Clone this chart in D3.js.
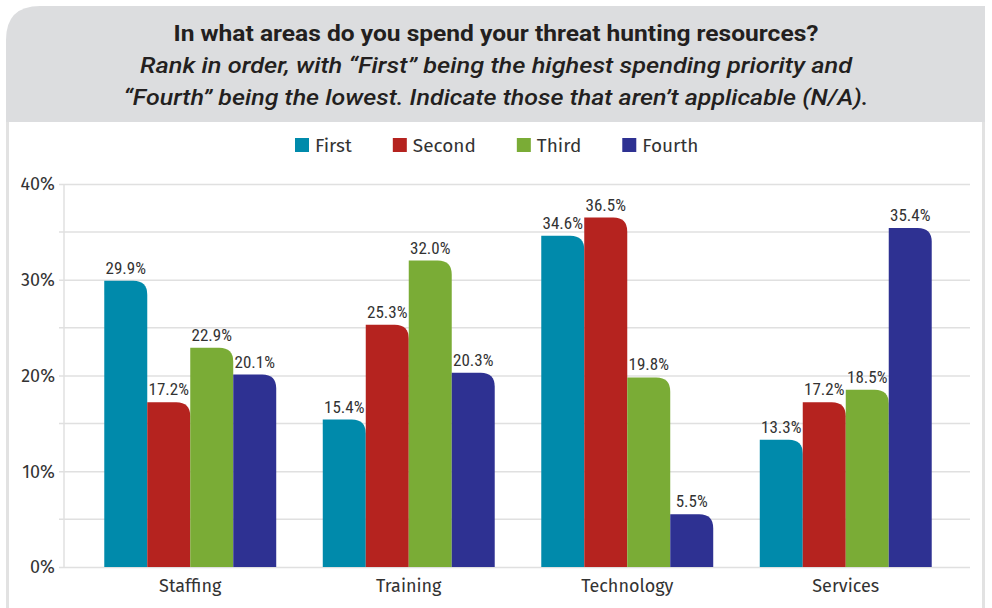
<!DOCTYPE html>
<html><head><meta charset="utf-8">
<script src="https://cdn.jsdelivr.net/npm/d3@7"></script>
<style>
html,body{margin:0;padding:0;background:#fff;}
svg{display:block;}
</style></head>
<body>
<svg id="c" width="992" height="608"></svg>
<script>
const categories = ["Staffing", "Training", "Technology", "Services"];
const seriesNames = ["First", "Second", "Third", "Fourth"];
const first  = [29.9, 15.4, 34.6, 13.3];
const second = [17.2, 25.3, 36.5, 17.2];
const third  = [22.9, 32.0, 19.8, 18.5];
const fourth = [20.1, 20.3, 5.5, 35.4];
const seriesColors = ["#008aab", "#b5231f", "#7aac36", "#2e3192"];
const yTicks = [0, 10, 20, 30, 40];
const yMinor = [5, 15, 25, 35];
const titleLines = [
  "In what areas do you spend your threat hunting resources?",
  "Rank in order, with \u201cFirst\u201d being the highest spending priority and",
  "\u201cFourth\u201d being the lowest. Indicate those that aren\u2019t applicable (N/A)."
];

const series = [first, second, third, fourth];
const svg = d3.select("#c");
const condensed = "'Roboto Condensed','Liberation Sans Narrow','DejaVu Sans Condensed','Open Sans',sans-serif";
const sans = "'Fira Sans','Noto Sans','Open Sans',sans-serif";
const titleFont = "Roboto,'Noto Sans',sans-serif";

// panel
const r = 34, L = 6, R = 985, T = 6, HB = 122;
svg.append("path")
  .attr("d", `M${L},${HB} L${L},${T + r} Q${L},${T} ${L + r},${T} L${R},${T} L${R},${HB} Z`)
  .attr("fill", "#dcdddf");
svg.append("line").attr("x1", L + 1.5).attr("x2", L + 1.5).attr("y1", HB).attr("y2", 608)
  .attr("stroke", "#e2e2e2").attr("stroke-width", 3);
svg.append("line").attr("x1", R - 1.5).attr("x2", R - 1.5).attr("y1", HB).attr("y2", 608)
  .attr("stroke", "#e2e2e2").attr("stroke-width", 3);

// title
const ty = [41, 73, 105];
const targetW = [645, 712, 745];
titleLines.forEach((t, i) => {
  const el = svg.append("text").attr("x", 496).attr("y", ty[i])
    .attr("text-anchor", "middle")
    .attr("font-family", titleFont)
    .attr("font-size", 22)
    .attr("font-weight", i === 0 ? "bold" : "500")
    .attr("font-style", i === 0 ? "normal" : "italic")
    .attr("fill", "#231f20")
    .text(t);
  const w = el.node().getComputedTextLength();
  if (Math.abs(w - targetW[i]) > 2) el.attr("textLength", targetW[i]).attr("lengthAdjust", "spacingAndGlyphs");
});

// scales
const x0 = d3.scaleBand().domain(categories).range([81, 955]).paddingInner(0.213).paddingOuter(0.1065);
const x1 = d3.scaleBand().domain(seriesNames).range([0, x0.bandwidth()]);
const y = d3.scaleLinear().domain([0, 40]).range([567, 184]);

const plotL = 64, plotR = 970;
// minor gridlines
svg.append("g").selectAll("line").data(yMinor).join("line")
  .attr("x1", plotL - 5).attr("x2", plotR)
  .attr("y1", d => y(d)).attr("y2", d => y(d))
  .attr("stroke", "#e0e0e0").attr("stroke-width", 1.5);

// y axis
const yAxis = d3.axisLeft(y).tickValues(yTicks).tickFormat(d => d + "%").tickSize(-(plotR - plotL)).tickPadding(10);
const ga = svg.append("g").attr("transform", `translate(${plotL},0)`).call(yAxis);
ga.select(".domain").remove();
ga.selectAll(".tick line").attr("stroke", "#e0e0e0").attr("stroke-width", 1.5).attr("x1", -5);
ga.selectAll(".tick text").attr("font-family", sans).attr("font-size", 18).attr("fill", "#333").attr("x", -9);
svg.append("line").attr("x1", plotL).attr("x2", plotL).attr("y1", y(40)).attr("y2", y(0))
  .attr("stroke", "#e0e0e0").attr("stroke-width", 1.5);

// bars
const rad = 14;
function barPath(xl, w, yt, yb) {
  const rr = Math.min(rad, w, yb - yt);
  return `M${xl},${yb} L${xl},${yt} L${xl + w - rr},${yt} Q${xl + w},${yt} ${xl + w},${yt + rr} L${xl + w},${yb} Z`;
}
const data = [];
categories.forEach((c, ci) => seriesNames.forEach((s, si) => data.push({c, s, si, v: series[si][ci]})));
const gb = svg.append("g");
gb.selectAll("path").data(data).join("path")
  .attr("d", d => barPath(x0(d.c) + x1(d.s), x1.bandwidth(), y(d.v), y(0)))
  .attr("fill", d => seriesColors[d.si]);
gb.selectAll("text").data(data).join("text")
  .attr("x", d => x0(d.c) + x1(d.s) + x1.bandwidth() / 2)
  .attr("y", d => y(d.v) - 7)
  .attr("text-anchor", "middle")
  .attr("font-family", condensed)
  .attr("font-size", 17)
  .attr("fill", "#333")
  .text(d => d.v.toFixed(1) + "%");

// category labels
svg.append("g").selectAll("text").data(categories).join("text")
  .attr("x", d => x0(d) + x0.bandwidth() / 2)
  .attr("y", 592)
  .attr("text-anchor", "middle")
  .attr("font-family", sans).attr("font-size", 18).attr("fill", "#333")
  .text(d => d);

// legend
const lg = svg.append("g");
let lx = 295;
seriesNames.forEach((s, i) => {
  lg.append("rect").attr("x", lx).attr("y", 138).attr("width", 14).attr("height", 14).attr("fill", seriesColors[i]);
  const t = lg.append("text").attr("x", lx + 20).attr("y", 152)
    .attr("font-family", sans).attr("font-size", 19).attr("fill", "#333").text(s);
  lx = lx + 20 + t.node().getComputedTextLength() + 41;
});
</script>
</body></html>
